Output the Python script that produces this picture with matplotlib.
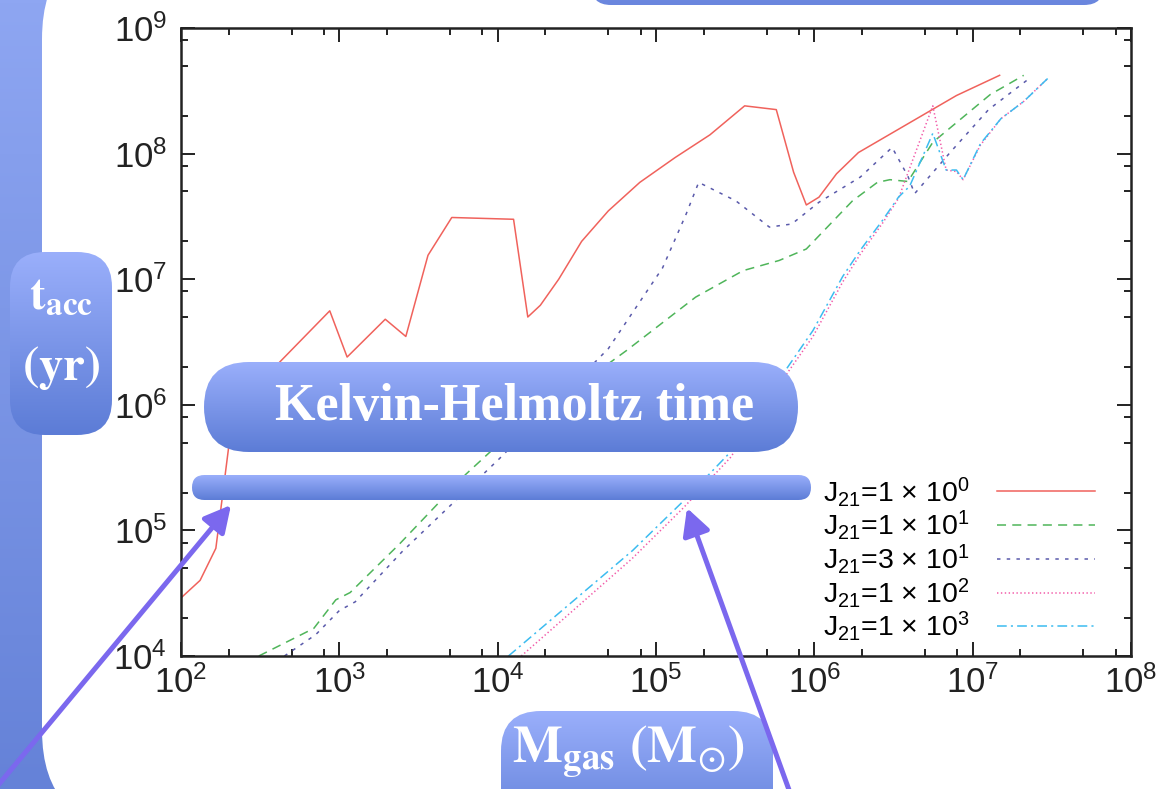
import numpy as np
import matplotlib
matplotlib.use("Agg")
import matplotlib.pyplot as plt
from matplotlib.patches import FancyBboxPatch, FancyArrowPatch
from matplotlib.ticker import FixedLocator, NullFormatter
from matplotlib.colors import LinearSegmentedColormap

plt.rcParams["font.family"] = ["Liberation Sans", "DejaVu Sans"]
plt.rcParams["mathtext.fontset"] = "custom"
plt.rcParams["mathtext.rm"] = "Liberation Sans"
plt.rcParams["mathtext.it"] = "Liberation Sans:italic"
plt.rcParams["mathtext.bf"] = "Liberation Sans:bold"
plt.rcParams["lines.scale_dashes"] = False

# ---- data (M_gas in Msun, t_acc in yr) ----
m_j1 = [1.00e2, 1.32e2, 1.66e2, 1.74e2, 2.0e2, 2.29e2, 8.7e2, 1.12e3, 1.95e3, 2.63e3,
        3.63e3, 5.13e3, 1.26e4, 1.55e4, 1.86e4, 2.43e4, 3.39e4, 5.0e4, 7.9e4, 1.32e5,
        2.19e5, 3.63e5, 5.75e5, 7.4e5, 8.9e5, 1.07e6, 1.38e6, 1.9e6, 7.9e6, 1.48e7]
t_j1 = [2.9e4, 4.0e4, 7.2e4, 1.15e5, 4.6e5, 1.0e6, 5.6e6, 2.4e6, 4.8e6, 3.5e6,
        1.55e7, 3.1e7, 3.0e7, 5.0e6, 6.2e6, 1.0e7, 2.0e7, 3.5e7, 5.9e7, 9.3e7,
        1.41e8, 2.4e8, 2.24e8, 7.1e7, 3.9e7, 4.5e7, 6.9e7, 1.02e8, 2.9e8, 4.2e8]

m_j10 = [3.1e2, 6.9e2, 9.5e2, 1.17e3, 2.4e3, 6.3e3, 1.02e4, 5.2e4, 6.5e4, 1.78e5,
         3.55e5, 6.0e5, 8.9e5, 1.74e6, 2.5e6, 3.0e6, 3.9e6, 5.6e6, 1.29e7, 2.1e7]
t_j10 = [1.0e4, 1.66e4, 2.8e4, 3.2e4, 7.8e4, 2.8e5, 4.9e5, 2.2e6, 2.7e6, 7.2e6,
         1.17e7, 1.41e7, 1.74e7, 4.2e7, 5.9e7, 6.2e7, 6.0e7, 1.23e8, 2.95e8, 4.2e8]

m_j30 = [4.5e2, 7.1e2, 1.0e3, 1.26e3, 2.5e3, 1.02e4, 5.0e4, 1.1e5, 1.55e5, 1.86e5,
         3.2e5, 5.2e5, 7.2e5, 1.07e6, 1.95e6, 3.1e6, 3.9e6, 4.3e6, 7.2e6, 1.26e7, 2.24e7]
t_j30 = [1.0e4, 1.48e4, 2.3e4, 2.7e4, 6.8e4, 3.7e5, 2.8e6, 1.23e7, 3.3e7, 5.9e7,
         4.2e7, 2.6e7, 2.75e7, 4.1e7, 6.5e7, 1.12e8, 6.6e7, 4.8e7, 1.02e8, 2.24e8, 3.9e8]

m_j100 = [1.41e4, 7.1e4, 1.48e5, 2.95e5, 6.3e5, 9.8e5, 1.51e6, 1.95e6, 2.7e6, 3.4e6,
          5.6e6, 6.8e6, 7.9e6, 8.7e6, 1.12e7, 1.51e7, 2.1e7, 3.0e7]
t_j100 = [1.0e4, 6.0e4, 1.5e5, 3.8e5, 1.58e6, 3.5e6, 9.5e6, 1.58e7, 2.8e7, 4.4e7,
          2.4e8, 7.4e7, 7.2e7, 6.2e7, 1.17e8, 1.9e8, 2.6e8, 4.0e8]

m_j1000 = [1.17e4, 7.1e4, 1.48e5, 2.95e5, 6.3e5, 9.8e5, 1.51e6, 1.95e6, 2.7e6, 3.4e6,
           4.0e6, 5.6e6, 6.8e6, 7.9e6, 8.7e6, 1.12e7, 1.51e7, 2.1e7, 3.0e7]
t_j1000 = [1.0e4, 6.9e4, 1.7e5, 4.2e5, 1.74e6, 3.9e6, 1.05e7, 1.7e7, 2.95e7, 4.5e7,
           5.5e7, 1.45e8, 7.4e7, 7.4e7, 6.2e7, 1.2e8, 1.9e8, 2.6e8, 4.0e8]

labels = [r"J$_{21}$=1 $\times$ 10$^{0}$",
          r"J$_{21}$=1 $\times$ 10$^{1}$",
          r"J$_{21}$=3 $\times$ 10$^{1}$",
          r"J$_{21}$=1 $\times$ 10$^{2}$",
          r"J$_{21}$=1 $\times$ 10$^{3}$"]

x_ticks = [1e2, 1e3, 1e4, 1e5, 1e6, 1e7, 1e8]
y_ticks = [1e4, 1e5, 1e6, 1e7, 1e8, 1e9]
minor_subs = [2, 5, 8]

series = [(m_j1, t_j1), (m_j10, t_j10), (m_j30, t_j30), (m_j100, t_j100), (m_j1000, t_j1000)]
colors = ["#f0625c", "#4fb55a", "#5a5aab", "#f25aa8", "#3cbcf0"]
styles = ["-", (0, (6.5, 4.5)), (0, (2.5, 4.5)), (0, (1, 1.8)), (0, (7, 3, 1.5, 3))]

W, H = 1174, 789
fig = plt.figure(figsize=(W / 100, H / 100), dpi=100)


def grad_box(ax, x, y, w, h, r, top, bottom, z=3):
    patch = FancyBboxPatch((x, y), w, h, boxstyle=f"round,pad=0,rounding_size={r}",
                           facecolor="none", edgecolor="none", zorder=z + 0.1)
    ax.add_patch(patch)
    cmap = LinearSegmentedColormap.from_list("g", [top, bottom])
    grad = np.linspace(0, 1, 256).reshape(-1, 1)
    im = ax.imshow(grad, extent=[x, x + w, y + h, y], cmap=cmap, aspect="auto",
                   origin="upper", zorder=z, interpolation="bilinear")
    im.set_clip_path(patch)
    return patch


# ---- slide background ----
bg = fig.add_axes([0, 0, 1, 1], zorder=0)
bg.set_axis_off()
bgrad = np.linspace(0, 1, 256).reshape(-1, 1)
bg.imshow(bgrad, extent=[0, W, H, 0], aspect="auto", zorder=0,
          cmap=LinearSegmentedColormap.from_list("b", ["#8ea6f2", "#6582d8"]))
bg.add_patch(FancyBboxPatch((42, -61), W + 300, 891, boxstyle="round,pad=0,rounding_size=100",
                            facecolor="white", edgecolor="none", zorder=1))
bg.set_xlim(0, W)
bg.set_ylim(H, 0)

# ---- chart ----
ax = fig.add_axes([181 / W, 1 - 656 / H, (1131 - 181) / W, (656 - 28) / H], zorder=1)
ax.patch.set_alpha(0)
for (m, t), c, ls, lab in zip(series, colors, styles, labels):
    ax.plot(m, t, color=c, ls=ls, lw=1.1, label=lab)

ax.set_xscale("log")
ax.set_yscale("log")
ax.set_xlim(x_ticks[0], x_ticks[-1])
ax.set_ylim(y_ticks[0], y_ticks[-1])
ax.xaxis.set_major_locator(FixedLocator(x_ticks))
ax.yaxis.set_major_locator(FixedLocator(y_ticks))
ax.xaxis.set_minor_locator(FixedLocator([s * d for d in x_ticks[:-1] for s in minor_subs]))
ax.yaxis.set_minor_locator(FixedLocator([s * d for d in y_ticks[:-1] for s in minor_subs]))
ax.xaxis.set_minor_formatter(NullFormatter())
ax.yaxis.set_minor_formatter(NullFormatter())
ax.tick_params(which="both", direction="in", top=True, right=True, width=1.4,
               color="#222222", labelsize=25, labelcolor="#222222")
ax.tick_params(which="major", length=10)
ax.tick_params(which="minor", length=5)
ax.tick_params(axis="x", pad=7)
ax.tick_params(axis="y", pad=10)
for sp in ax.spines.values():
    sp.set_linewidth(1.8)
    sp.set_color("#222222")

ax.legend(loc="lower right", bbox_to_anchor=(0.962, 0.02), frameon=False,
          markerfirst=False, handlelength=3.45, handletextpad=0.95,
          labelspacing=0.0, fontsize=20.5, borderpad=0, borderaxespad=0)

# ---- slide overlay: labels, bar and arrows ----
ov = fig.add_axes([0, 0, 1, 1], zorder=2)
ov.set_axis_off()
ov.patch.set_alpha(0)
ov.set_autoscale_on(False)
ov.set_xlim(0, W)
ov.set_ylim(H, 0)

top_c, bot_c = "#9aaffb", "#5c7cd6"
grad_box(ov, 591, -60, 513, 65, 20, "#7d98ea", "#6a86de")
grad_box(ov, 10, 252, 102, 183, 35, top_c, bot_c)
grad_box(ov, 204, 362, 594, 90, 45, top_c, bot_c)
grad_box(ov, 192, 475, 619, 25, 12.5, top_c, bot_c)
grad_box(ov, 501, 711, 272, 130, 40, top_c, bot_c)

ov.text(61, 297, r"$\mathbf{t}_{\mathbf{acc}}$", math_fontfamily="stix", color="white",
        fontsize=34, ha="center", va="center", zorder=5)
ov.text(61, 368, r"$\mathbf{(yr)}$", math_fontfamily="stix", color="white",
        fontsize=35, ha="center", va="center", zorder=5)
ov.text(515, 407, "Kelvin-Helmoltz time", family=["Liberation Serif", "DejaVu Serif"],
        weight="bold", color="white", fontsize=37.5, ha="center", va="center", zorder=5)
ov.text(628, 752, r"$\mathbf{M}_{\mathbf{gas}}\ \mathbf{(M}_{\odot}\mathbf{)}$",
        math_fontfamily="stix", color="white", fontsize=38, ha="center", va="center", zorder=5)

for tail, tip in [((-20, 807), (231, 505)), ((797, 812), (687, 508))]:
    ov.add_patch(FancyArrowPatch(tail, tip, arrowstyle="-|>,head_length=0.8,head_width=0.42",
                                 lw=3.6, color="#7b68ee", shrinkA=0, shrinkB=0,
                                 mutation_scale=20, zorder=6))

fig.savefig("out.png", dpi=100)
